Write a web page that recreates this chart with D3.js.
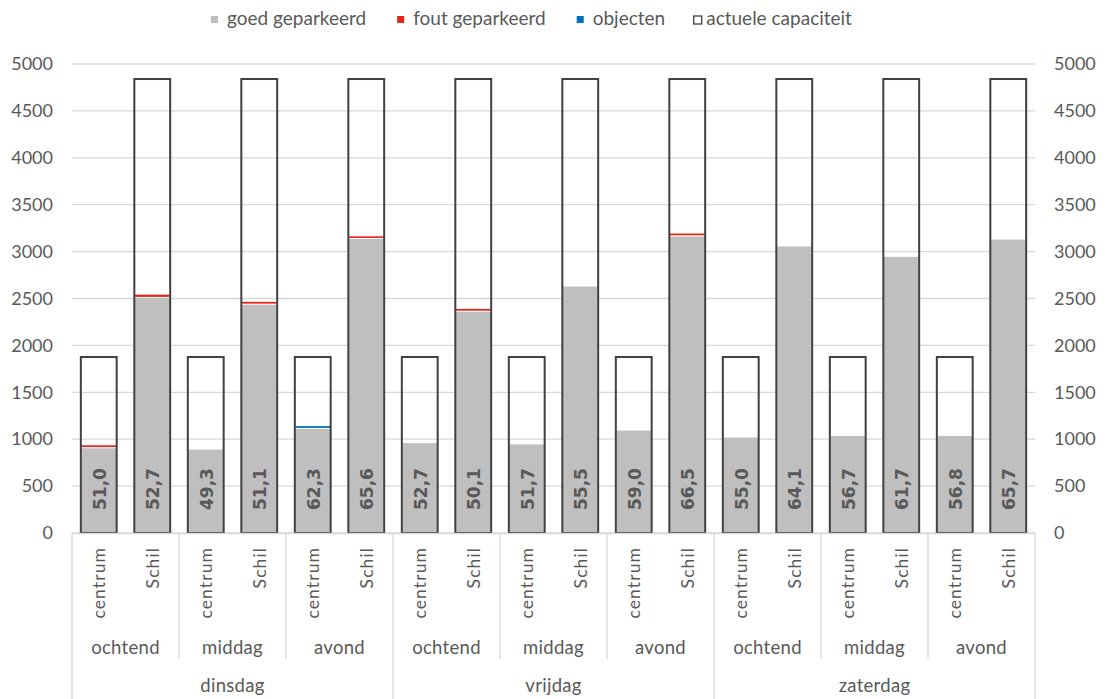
<!DOCTYPE html>
<html><head><meta charset="utf-8">
<script src="https://cdn.jsdelivr.net/npm/d3@7"></script>
<style>
body{margin:0;background:#fff;}
text{font-family:Lato,"Noto Sans",sans-serif;fill:#595959;}
</style></head>
<body><svg id="c" width="1106" height="699"></svg>
<script>
const days = ["dinsdag","vrijdag","zaterdag"];
const periods = ["ochtend","middag","avond"];
const zones = ["centrum","Schil"];
const goed = [910,2512,895,2440,1115,3140, 963,2365,950,2633,1098,3168, 1023,3060,1041,2950,1041,3134];
const fout = [30,35,0,30,0,28, 0,30,0,0,0,30, 0,0,0,0,0,0];
const objecten = [0,0,0,0,30,0, 0,0,0,0,0,0, 0,0,0,0,0,0];
const capaciteit = [1876,4840,1876,4840,1876,4840, 1876,4840,1876,4840,1876,4840, 1876,4840,1876,4840,1876,4840];
const labels = ["51,0","52,7","49,3","51,1","62,3","65,6","52,7","50,1","51,7","55,5","59,0","66,5","55,0","64,1","56,7","61,7","56,8","65,7"];
const yTicks = [0,500,1000,1500,2000,2500,3000,3500,4000,4500,5000];
const seriesNames = ["goed geparkeerd","fout geparkeerd","objecten","actuele capaciteit"];
const colors = {goed:"#bfbfbf", fout:"#e8231c", objecten:"#0070c0", cap:"#404040"};

const svg = d3.select("#c");
const L = 72, R = 1035, T = 64, B = 533;
const idx = d3.range(goed.length);
const x = d3.scaleBand().domain(idx).range([L,R]).paddingInner(0.33).paddingOuter(0.165);
const y = d3.scaleLinear().domain([0,5000]).range([B,T]);

// gridlines
svg.append("g").selectAll("line").data(yTicks).join("line")
  .attr("x1",L).attr("x2",R).attr("y1",d=>y(d)).attr("y2",d=>y(d))
  .attr("stroke","#d9d9d9").attr("stroke-width",1.3);

// axes
const ga = svg.append("g").attr("transform",`translate(53,0)`)
  .call(d3.axisLeft(y).tickValues(yTicks).tickSize(0).tickPadding(0).tickFormat(d3.format("d")));
ga.select(".domain").remove();
ga.selectAll("text").style("font-family","Lato").style("font-size","18px").attr("fill","#595959");
const gr = svg.append("g").attr("transform",`translate(1054,0)`)
  .call(d3.axisRight(y).tickValues(yTicks).tickSize(0).tickPadding(0).tickFormat(d3.format("d")));
gr.select(".domain").remove();
gr.selectAll("text").style("font-family","Lato").style("font-size","18px").attr("fill","#595959");

// stacked bars
const rows = idx.map(i=>({i, goed:goed[i], fout:fout[i], objecten:objecten[i]}));
const stack = d3.stack().keys(["goed","fout","objecten"])(rows);
svg.append("g").selectAll("g").data(stack).join("g")
  .attr("fill",d=>colors[d.key])
  .selectAll("rect").data(d=>d.filter(p=>p[1]-p[0]>0)).join("rect")
  .attr("x",d=>x(d.data.i)).attr("width",x.bandwidth())
  .attr("y",d=>y(d[1])).attr("height",d=>y(d[0])-y(d[1]))
  .attr("stroke","#fff").attr("stroke-width",1);

// capacity outlines
svg.append("g").selectAll("rect").data(idx).join("rect")
  .attr("x",i=>x(i)).attr("width",x.bandwidth())
  .attr("y",i=>y(capaciteit[i])).attr("height",i=>B-y(capaciteit[i]))
  .attr("fill","none").attr("stroke",colors.cap).attr("stroke-width",2);

// value labels
svg.append("g").selectAll("text").data(idx).join("text")
  .attr("transform",i=>`translate(${x(i)+x.bandwidth()/2+1},510) rotate(-90)`)
  .attr("dy","0.36em").attr("text-anchor","start")
  .style("font-family","'DejaVu Sans'").style("font-size","17px").style("font-weight","700")
  .attr("fill","#404040")
  .text(i=>labels[i]);

// category axis
const axisG = svg.append("g");
axisG.append("line").attr("x1",L).attr("x2",R).attr("y1",B+0.5).attr("y2",B+0.5).attr("stroke","#d9d9d9").attr("stroke-width",1.3);
const step = x.step();
axisG.selectAll("text.z").data(idx).join("text").attr("class","z")
  .attr("transform",i=>`translate(${x(i)+x.bandwidth()/2},547) rotate(-90)`)
  .attr("dy","0.36em").attr("text-anchor","end")
  .style("font-size","17.5px").style("letter-spacing","1.1px")
  .text(i=>zones[i%2]);
const nP = days.length*periods.length;
d3.range(nP+1).forEach(k=>{
  const xx = L + k*2*step;
  const full = k%3===0;
  axisG.append("line").attr("x1",xx).attr("x2",xx).attr("y1",B).attr("y2",full?699:659)
    .attr("stroke","#d9d9d9").attr("stroke-width",1.3);
});
axisG.selectAll("text.p").data(d3.range(nP)).join("text").attr("class","p")
  .attr("x",k=>L+(k+0.5)*2*step).attr("y",654).attr("text-anchor","middle")
  .style("font-size","18.5px").style("letter-spacing","0.3px").text(k=>periods[k%3]);
axisG.selectAll("text.d").data(days).join("text").attr("class","d")
  .attr("x",(d,j)=>L+(j+0.5)*6*step).attr("y",692).attr("text-anchor","middle")
  .style("font-size","18.5px").style("letter-spacing","0.3px").text(d=>d);

// legend
const legColors = [colors.goed, colors.fout, colors.objecten, "none"];
const lg = svg.append("g");
let cx = 211;
const gaps = [31, 31, 28];
seriesNames.forEach((name,k)=>{
  if(legColors[k]==="none"){
    lg.append("rect").attr("x",cx+0.5).attr("y",16).attr("width",8).attr("height",8)
      .attr("fill","#fff").attr("stroke","#404040").attr("stroke-width",1.3);
  } else {
    lg.append("rect").attr("x",cx).attr("y",16).attr("width",7).attr("height",7).attr("fill",legColors[k]);
  }
  const off = k===3 ? 13 : 16;
  const t = lg.append("text").attr("x",cx+off).attr("y",25).style("font-size","19px").text(name);
  const w = t.node().getComputedTextLength();
  cx = cx + off + w + (gaps[k]||0);
});
</script></body></html>
